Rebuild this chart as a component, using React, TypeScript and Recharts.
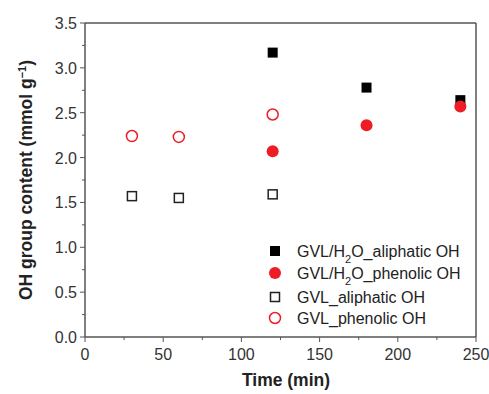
import React from "react";
import { ScatterChart, Scatter, XAxis, YAxis, Legend } from "recharts";

const gvlTimes = [30, 60, 120];
const gvlAliphatic = [1.57, 1.55, 1.59];
const gvlPhenolic = [2.24, 2.23, 2.48];
const waterTimes = [120, 180, 240];
const waterAliphatic = [3.17, 2.78, 2.64];
const waterPhenolic = [2.07, 2.36, 2.57];
const xTicks = [0, 25, 50, 75, 100, 125, 150, 175, 200, 225, 250];
const yTicks = [0, 0.25, 0.5, 0.75, 1, 1.25, 1.5, 1.75, 2, 2.25, 2.5, 2.75, 3, 3.25, 3.5];

const toPoints = (xs: number[], ys: number[]) => xs.map((t, i) => ({ t, v: ys[i] }));

const RED = "#ee1c25";
const AXIS = "#555";
const FONT = "'Liberation Sans', Arial, sans-serif";

const FilledSquare = (p: any) => <rect x={p.cx - 5} y={p.cy - 5} width={10} height={10} fill="#000" />;
const OpenSquare = (p: any) => (
  <rect x={p.cx - 4.5} y={p.cy - 4.5} width={9} height={9} fill="#fff" stroke="#222" strokeWidth={1.5} />
);
const FilledCircle = (p: any) => <circle cx={p.cx} cy={p.cy} r={6} fill={RED} />;
const OpenCircle = (p: any) => <circle cx={p.cx} cy={p.cy} r={5.5} fill="#fff" stroke={RED} strokeWidth={1.5} />;

const BottomTick = (p: any) => {
  const major = p.payload.value % 50 === 0;
  return (
    <g>
      <line x1={p.x} x2={p.x} y1={p.y} y2={p.y + (major ? 5 : 3)} stroke={AXIS} />
      {major && (
        <text x={p.x} y={p.y + 23} textAnchor="middle" fontSize={16} fill="#333" fontFamily={FONT}>
          {p.payload.value}
        </text>
      )}
    </g>
  );
};

const TopTick = (p: any) => {
  const major = p.payload.value % 50 === 0;
  return <line x1={p.x} x2={p.x} y1={p.y} y2={p.y + (major ? 5 : 3)} stroke={AXIS} />;
};

const LeftTick = (p: any) => {
  const major = Math.abs((p.payload.value * 2) % 1) < 1e-6;
  return (
    <g>
      <line x1={p.x} x2={p.x - (major ? 5 : 3)} y1={p.y} y2={p.y} stroke={AXIS} />
      {major && (
        <text x={p.x - 8} y={p.y + 6} textAnchor="end" fontSize={16} fill="#333" fontFamily={FONT}>
          {p.payload.value.toFixed(1)}
        </text>
      )}
    </g>
  );
};

const RightTick = (p: any) => {
  const major = Math.abs((p.payload.value * 2) % 1) < 1e-6;
  return <line x1={p.x} x2={p.x - (major ? 5 : 3)} y1={p.y} y2={p.y} stroke={AXIS} />;
};

const legendItems = [
  { sym: "fs", label: <>GVL/H<tspan baselineShift="sub" fontSize={11}>2</tspan>O_aliphatic OH</> },
  { sym: "fc", label: <>GVL/H<tspan baselineShift="sub" fontSize={11}>2</tspan>O_phenolic OH</> },
  { sym: "os", label: <>GVL_aliphatic OH</> },
  { sym: "oc", label: <>GVL_phenolic OH</> },
];
const legendRows = [0, 22, 46, 67];

const LegendBox = () => (
  <svg width={225} height={90}>
    {legendItems.map((it, i) => {
      const cy = 11 + legendRows[i];
      const cx = 13;
      return (
        <g key={i}>
          {it.sym === "fs" && <FilledSquare cx={cx} cy={cy} />}
          {it.sym === "fc" && <FilledCircle cx={cx} cy={cy} />}
          {it.sym === "os" && <OpenSquare cx={cx} cy={cy} />}
          {it.sym === "oc" && <OpenCircle cx={cx} cy={cy} />}
          <text x={35} y={cy + 6} fontSize={16} fill="#222" fontFamily={FONT}>
            {it.label}
          </text>
        </g>
      );
    })}
  </svg>
);

export default function App() {
  return (
    <div style={{ position: "absolute", left: 0, top: 0 }}>
      <ScatterChart width={489} height={394} margin={{ top: 22, right: 12, bottom: 56, left: 84 }}>
        <XAxis
          dataKey="t"
          type="number"
          domain={[0, 250]}
          ticks={xTicks}
          interval={0}
          height={1}
          tickSize={0}
          tickMargin={0}
          tick={<BottomTick />}
          tickLine={false}
          axisLine={{ stroke: AXIS, strokeWidth: 1.5 }}
        />
        <XAxis
          xAxisId="top"
          orientation="top"
          type="number"
          domain={[0, 250]}
          ticks={xTicks}
          interval={0}
          height={1}
          tickSize={0}
          tickMargin={0}
          tick={<TopTick />}
          tickLine={false}
          axisLine={{ stroke: AXIS, strokeWidth: 1.5 }}
        />
        <YAxis
          dataKey="v"
          type="number"
          domain={[0, 3.5]}
          ticks={yTicks}
          interval={0}
          width={1}
          tickSize={0}
          tickMargin={0}
          tick={<LeftTick />}
          tickLine={false}
          axisLine={{ stroke: AXIS, strokeWidth: 1.5 }}
        />
        <YAxis
          yAxisId="right"
          orientation="right"
          type="number"
          domain={[0, 3.5]}
          ticks={yTicks}
          interval={0}
          width={1}
          tickSize={0}
          tickMargin={0}
          tick={<RightTick />}
          tickLine={false}
          axisLine={{ stroke: AXIS, strokeWidth: 1.5 }}
        />
        <Legend
          layout="horizontal"
          verticalAlign="middle"
          align="center"
          content={<LegendBox />}
          wrapperStyle={{ position: "absolute", left: 262, top: 240, width: 225, height: 90 }}
        />
        <Scatter name="GVL_aliphatic OH" data={toPoints(gvlTimes, gvlAliphatic)} shape={<OpenSquare />} isAnimationActive={false} />
        <Scatter name="GVL_phenolic OH" data={toPoints(gvlTimes, gvlPhenolic)} shape={<OpenCircle />} isAnimationActive={false} />
        <Scatter name="GVL/H2O_aliphatic OH" data={toPoints(waterTimes, waterAliphatic)} shape={<FilledSquare />} isAnimationActive={false} />
        <Scatter name="GVL/H2O_phenolic OH" data={toPoints(waterTimes, waterPhenolic)} shape={<FilledCircle />} isAnimationActive={false} />
        <text x={286} y={386} textAnchor="middle" fontSize={17.5} fontWeight="bold" fill="#222" fontFamily={FONT}>
          Time (min)
        </text>
        <text
          x={0}
          y={0}
          transform="translate(32,180) rotate(-90)"
          textAnchor="middle"
          fontSize={17.5}
          fontWeight="bold"
          fill="#222"
          fontFamily={FONT}
        >
          OH group content (mmol g<tspan baselineShift="super" fontSize={11}>−1</tspan>)
        </text>
      </ScatterChart>
    </div>
  );
}
